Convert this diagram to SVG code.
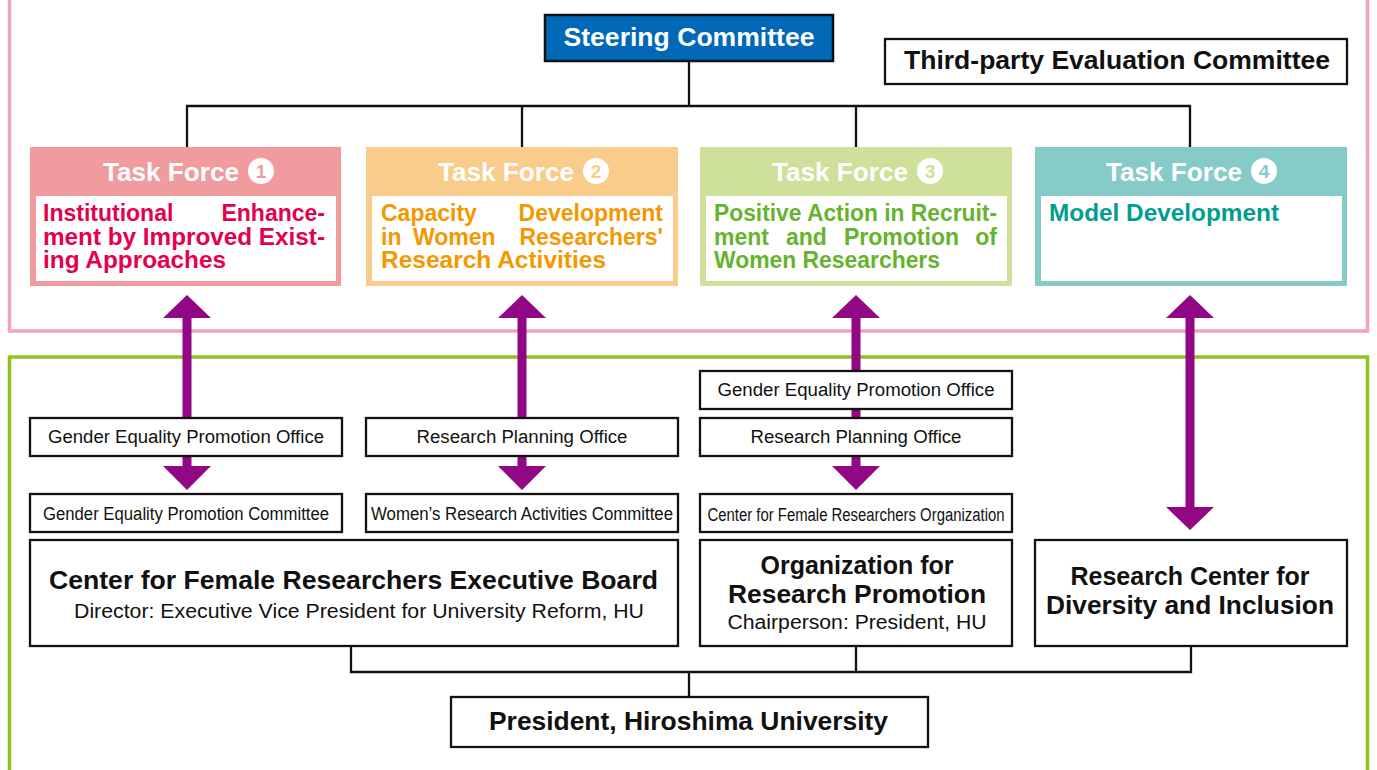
<svg xmlns="http://www.w3.org/2000/svg" width="1377" height="770" viewBox="0 0 1377 770">
<style>
text{font-family:"Liberation Sans",Arial,Helvetica,sans-serif}
.b{font-weight:bold}
.box{fill:#fff;stroke:#111;stroke-width:2.3}
.ln{fill:none;stroke:#111;stroke-width:2.3}
.arr{fill:#920783}
.tft{fill:#fff;font-size:26px;font-weight:bold}
.dig{font-size:19px;font-weight:bold;text-anchor:middle}
.body{font-size:23px;font-weight:bold}
.sm{font-size:18px;fill:#111;text-anchor:middle}
.big{font-size:25px;font-weight:bold;fill:#111;text-anchor:middle}
.sub{font-size:20px;fill:#111;text-anchor:middle}
</style>
<rect width="1377" height="770" fill="#fff"/>
<!-- frames -->
<rect x="9.5" y="-20" width="1358" height="351" fill="none" stroke="#f2a1c4" stroke-width="3.5"/>
<rect x="9.5" y="357" width="1358" height="430" fill="none" stroke="#8fc31f" stroke-width="3.5"/>

<!-- connectors -->
<g id="connectors">
  <path class="ln" d="M689 61V106M187 147V106H1190V147M522 106V147M856 106V147"/>
  <path class="ln" d="M351 646V672H1191V646M856 646V672M689 672V697"/>
  <path class="arr" d="M187 295L211 318H191.5V466H211L187 490L163 466H182.5V318H163Z"/>
  <path class="arr" d="M522 295L546 318H526.5V466H546L522 490L498 466H517.5V318H498Z"/>
  <path class="arr" d="M856 295L880 318H860.5V466H880L856 490L832 466H851.5V318H832Z"/>
  <path class="arr" d="M1190 295L1214 318H1194.5V507H1214L1190 530L1166 507H1185.5V318H1166Z"/>
</g>

<g id="steering">
  <rect x="545" y="15" width="288" height="46" fill="#0068b7" stroke="#111" stroke-width="2.5"/>
  <text x="689" y="46" text-anchor="middle" class="b" font-size="26" fill="#fff" textLength="251" lengthAdjust="spacingAndGlyphs">Steering Committee</text>
</g>
<g id="third-party">
  <rect x="885" y="39" width="462" height="45" class="box"/>
  <text x="1117" y="69" text-anchor="middle" class="b" font-size="25" fill="#111" textLength="426" lengthAdjust="spacingAndGlyphs">Third-party Evaluation Committee</text>
</g>

<g id="tf1">
  <rect x="30" y="147" width="311" height="139" fill="#f09c9f"/>
  <rect x="36" y="196" width="300" height="85" fill="#fff"/>
  <text x="103" y="181" class="tft" textLength="136" lengthAdjust="spacingAndGlyphs">Task Force</text>
  <circle cx="261" cy="171" r="13" fill="#fff"/>
  <text x="261" y="178" class="dig" fill="#f09c9f">1</text>
  <g class="body" fill="#e4004f">
    <text x="43" y="221">Institutional</text>
    <text x="325" y="221" text-anchor="end">Enhance-</text>
    <text x="43" y="245" textLength="282" lengthAdjust="spacingAndGlyphs">ment by Improved Exist-</text>
    <text x="43" y="268" textLength="183" lengthAdjust="spacingAndGlyphs">ing Approaches</text>
  </g>
</g>
<g id="tf2">
  <rect x="366" y="147" width="312" height="139" fill="#f9cc8b"/>
  <rect x="372" y="196" width="301" height="85" fill="#fff"/>
  <text x="438" y="181" class="tft" textLength="136" lengthAdjust="spacingAndGlyphs">Task Force</text>
  <circle cx="596" cy="171" r="13" fill="#fff"/>
  <text x="596" y="178" class="dig" fill="#f9cc8b">2</text>
  <g class="body" fill="#f39800">
    <text x="381" y="221">Capacity</text>
    <text x="663" y="221" text-anchor="end">Development</text>
    <text x="381" y="245">in</text>
    <text x="413" y="245">Women</text>
    <text x="663" y="245" text-anchor="end">Researchers'</text>
    <text x="381" y="268" textLength="225" lengthAdjust="spacingAndGlyphs">Research Activities</text>
  </g>
</g>
<g id="tf3">
  <rect x="700" y="147" width="312" height="139" fill="#cde19b"/>
  <rect x="706" y="196" width="301" height="85" fill="#fff"/>
  <text x="772" y="181" class="tft" textLength="136" lengthAdjust="spacingAndGlyphs">Task Force</text>
  <circle cx="930" cy="171" r="13" fill="#fff"/>
  <text x="930" y="178" class="dig" fill="#cde19b">3</text>
  <g class="body" fill="#66b32e">
    <text x="714" y="221" textLength="283" lengthAdjust="spacingAndGlyphs">Positive Action in Recruit-</text>
    <text x="714" y="245">ment</text>
    <text x="786" y="245">and</text>
    <text x="844" y="245">Promotion</text>
    <text x="997" y="245" text-anchor="end">of</text>
    <text x="714" y="268" textLength="226" lengthAdjust="spacingAndGlyphs">Women Researchers</text>
  </g>
</g>
<g id="tf4">
  <rect x="1035" y="147" width="312" height="139" fill="#87cbc8"/>
  <rect x="1041" y="196" width="301" height="85" fill="#fff"/>
  <text x="1106" y="181" class="tft" textLength="136" lengthAdjust="spacingAndGlyphs">Task Force</text>
  <circle cx="1264" cy="171" r="13" fill="#fff"/>
  <text x="1264" y="178" class="dig" fill="#87cbc8">4</text>
  <text x="1049" y="221" class="body" fill="#009e8e" textLength="230" lengthAdjust="spacingAndGlyphs">Model Development</text>
</g>

<g id="gepo1">
  <rect x="30" y="418" width="312" height="38" class="box"/>
  <text x="186" y="443" class="sm" textLength="276" lengthAdjust="spacingAndGlyphs">Gender Equality Promotion Office</text>
</g>
<g id="gepc">
  <rect x="30" y="494" width="312" height="38" class="box"/>
  <text x="186" y="520" class="sm" font-size="17" textLength="286" lengthAdjust="spacingAndGlyphs">Gender Equality Promotion Committee</text>
</g>
<g id="rpo2">
  <rect x="366" y="418" width="312" height="38" class="box"/>
  <text x="522" y="443" class="sm" textLength="211" lengthAdjust="spacingAndGlyphs">Research Planning Office</text>
</g>
<g id="wrac">
  <rect x="366" y="494" width="312" height="38" class="box"/>
  <text x="522" y="520" class="sm" font-size="17" textLength="302" lengthAdjust="spacingAndGlyphs">Women’s Research Activities Committee</text>
</g>
<g id="gepo3">
  <rect x="700" y="371" width="312" height="38" class="box"/>
  <text x="856" y="396" class="sm" textLength="277" lengthAdjust="spacingAndGlyphs">Gender Equality Promotion Office</text>
</g>
<g id="rpo3">
  <rect x="700" y="418" width="312" height="38" class="box"/>
  <text x="856" y="443" class="sm" textLength="211" lengthAdjust="spacingAndGlyphs">Research Planning Office</text>
</g>
<g id="cfro">
  <rect x="700" y="494" width="312" height="38" class="box"/>
  <text x="856" y="521" class="sm" font-size="17" textLength="297" lengthAdjust="spacingAndGlyphs">Center for Female Researchers Organization</text>
</g>

<g id="cfreb">
  <rect x="30" y="540" width="648" height="106" class="box"/>
  <text x="353.5" y="589" class="big" textLength="609" lengthAdjust="spacingAndGlyphs">Center for Female Researchers Executive Board</text>
  <text x="359" y="618" class="sub" textLength="570" lengthAdjust="spacingAndGlyphs">Director: Executive Vice President for University Reform, HU</text>
</g>
<g id="orp">
  <rect x="700" y="540" width="312" height="106" class="box"/>
  <text x="857" y="574" class="big">Organization for</text>
  <text x="857" y="603" class="big" textLength="258" lengthAdjust="spacingAndGlyphs">Research Promotion</text>
  <text x="857" y="629" class="sub" textLength="259" lengthAdjust="spacingAndGlyphs">Chairperson: President, HU</text>
</g>
<g id="rcdi">
  <rect x="1035" y="540" width="312" height="106" class="box"/>
  <text x="1190" y="585" class="big">Research Center for</text>
  <text x="1190" y="614" class="big" textLength="288" lengthAdjust="spacingAndGlyphs">Diversity and Inclusion</text>
</g>
<g id="president">
  <rect x="451" y="697" width="477" height="50" class="box"/>
  <text x="688.5" y="730" class="big" textLength="399" lengthAdjust="spacingAndGlyphs">President, Hiroshima University</text>
</g>
</svg>
